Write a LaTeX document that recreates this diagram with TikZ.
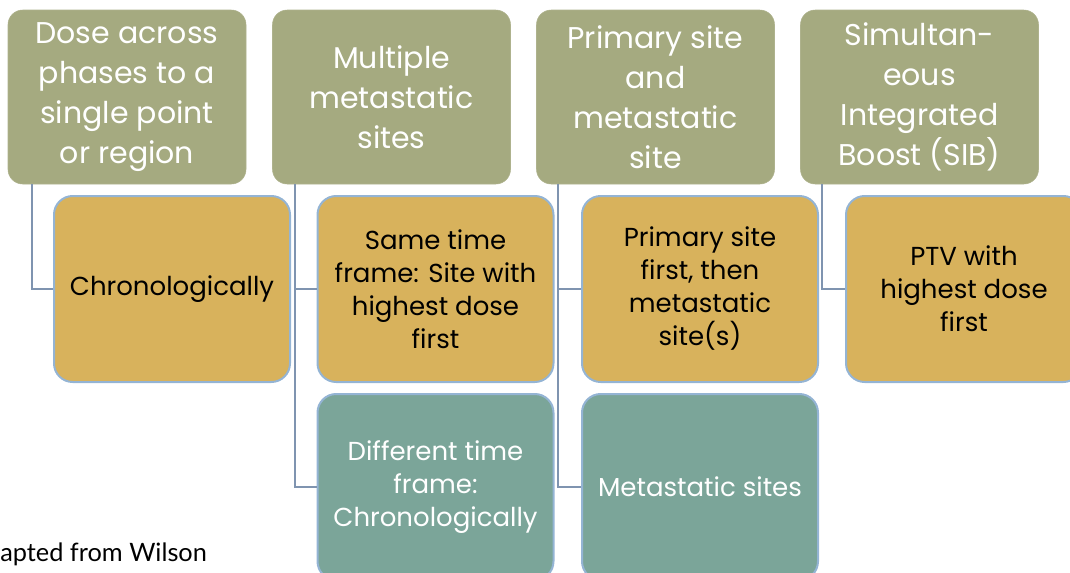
\documentclass[tikz,border=0pt]{standalone}
\usepackage{fontspec}
\setmainfont{Poppins}
\newfontfamily\notefont{Lato}
\definecolor{topgreen}{HTML}{A5AA80}
\definecolor{gold}{HTML}{D8B25C}
\definecolor{teal}{HTML}{7BA599}
\definecolor{kidborder}{HTML}{94B4D4}
\definecolor{linkcol}{HTML}{7F94B0}
\begin{document}
\begin{tikzpicture}[x=0.75pt,y=-0.75pt,
  topbox/.style={fill=topgreen, draw=topgreen!90!white, rounded corners=11pt,
    minimum width=178.5pt, minimum height=130.5pt, text=white, align=center,
    inner sep=0pt, font=\fontsize{22.5}{30}\selectfont},
  kidbox/.style={draw=kidborder, line width=1.5pt, rounded corners=14pt,
    minimum width=177pt, minimum height=139.5pt, align=center, inner sep=0pt,
    font=\fontsize{19.5}{24.75}\selectfont},
  goldbox/.style={kidbox, fill=gold, text=black},
  tealbox/.style={kidbox, fill=teal, text=white},
  link/.style={draw=linkcol, line width=1.2pt}]
\useasboundingbox (0,0) rectangle (1070,572);
\clip (0,0) rectangle (1070,572);
% top row
\node[topbox] (t1) at (127,97) {Dose across\\phases to a\\single point\\or region};
\node[topbox] (t2) at (391.5,97) {Multiple\\metastatic\\sites};
\node[topbox] (t3) at (655.5,97) {Primary site\\and\\metastatic\\site};
\node[topbox] (t4) at (919.5,97) {Simultan-\\eous\\Integrated\\Boost (SIB)};
% children
\node[goldbox] (c1) at (172,289) {Chronologically};
\node[goldbox] (c2) at (435.5,289) {Same time\\frame: Site with\\highest dose\\first};
\node[tealbox] (d2) at (435.5,487) {Different time\\frame:\\Chronologically};
\node[goldbox] (c3) at (700,289) {Primary site\\first, then\\metastatic\\site(s)};
\node[tealbox] (d3) at (700,487) {Metastatic sites};
\node[goldbox] (c4) at (964,289) {PTV with\\highest dose\\first};
% connectors
\draw[link] ([xshift=18pt]t1.south west) |- (c1.west);
\draw[link] ([xshift=17pt]t2.south west) |- (c2.west);
\draw[link] ([xshift=17pt]t2.south west) |- (d2.west);
\draw[link] ([xshift=16.5pt]t3.south west) |- (c3.west);
\draw[link] ([xshift=16.5pt]t3.south west) |- (d3.west);
\draw[link] ([xshift=16.5pt]t4.south west) |- (c4.west);
% note
\node[anchor=base west, inner sep=0pt, font=\notefont\fontsize{19}{22}\selectfont] (note) at (0,561) {apted from Wilson};
\end{tikzpicture}
\end{document}
